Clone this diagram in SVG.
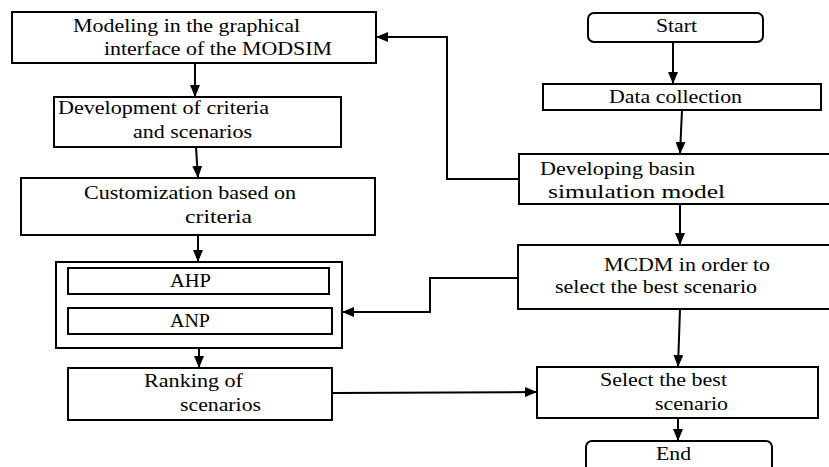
<svg xmlns="http://www.w3.org/2000/svg" width="829" height="467" viewBox="0 0 829 467">
<style>
  .box { fill: #fff; stroke: #000; stroke-width: 2; }
  .t { font-family: "Liberation Serif", "Times New Roman", serif; font-size: 19px; fill: #000; }
  .c { fill: none; stroke: #000; stroke-width: 2; }
</style>
<defs>
  <marker id="ah" markerWidth="12" markerHeight="10" refX="12" refY="5" orient="auto" markerUnits="userSpaceOnUse">
    <path d="M0,0 L12,5 L0,10 z" fill="#000"/>
  </marker>
</defs>
<rect width="829" height="467" fill="#fff"/>

<g id="modeling">
  <rect class="box" x="12" y="12" width="364" height="51"/>
  <text class="t" x="73" y="32" textLength="227" lengthAdjust="spacingAndGlyphs">Modeling in the graphical</text>
  <text class="t" x="104" y="55" textLength="228" lengthAdjust="spacingAndGlyphs">interface of the MODSIM</text>
</g>
<g id="development">
  <rect class="box" x="54" y="97" width="287" height="50"/>
  <text class="t" x="58" y="114" textLength="211" lengthAdjust="spacingAndGlyphs">Development of criteria</text>
  <text class="t" x="133" y="138" textLength="119" lengthAdjust="spacingAndGlyphs">and scenarios</text>
</g>
<g id="customization">
  <rect class="box" x="21" y="178" width="354" height="57"/>
  <text class="t" x="84" y="199" textLength="212" lengthAdjust="spacingAndGlyphs">Customization based on</text>
  <text class="t" x="185" y="223" textLength="67" lengthAdjust="spacingAndGlyphs">criteria</text>
</g>
<g id="methods">
  <rect class="box" x="56" y="262" width="286" height="86"/>
  <g id="ahp">
    <rect class="box" x="68" y="268" width="261" height="26"/>
    <text class="t" x="170" y="287" textLength="41" lengthAdjust="spacingAndGlyphs">AHP</text>
  </g>
  <g id="anp">
    <rect class="box" x="68" y="308" width="264" height="26"/>
    <text class="t" x="170" y="327" textLength="40" lengthAdjust="spacingAndGlyphs">ANP</text>
  </g>
</g>
<g id="ranking">
  <rect class="box" x="68" y="368" width="264" height="52"/>
  <text class="t" x="144" y="387" textLength="99" lengthAdjust="spacingAndGlyphs">Ranking of</text>
  <text class="t" x="180" y="411" textLength="81" lengthAdjust="spacingAndGlyphs">scenarios</text>
</g>
<g id="start">
  <rect class="box" x="588" y="13" width="175" height="29" rx="6"/>
  <text class="t" x="656" y="32" textLength="41" lengthAdjust="spacingAndGlyphs">Start</text>
</g>
<g id="data">
  <rect class="box" x="543" y="84" width="278" height="26"/>
  <text class="t" x="609" y="103" textLength="133" lengthAdjust="spacingAndGlyphs">Data collection</text>
</g>
<g id="developing">
  <rect class="box" x="519" y="154" width="320" height="50"/>
  <text class="t" x="540" y="175" textLength="155" lengthAdjust="spacingAndGlyphs">Developing basin</text>
  <text class="t" x="548" y="198" textLength="177" lengthAdjust="spacingAndGlyphs">simulation model</text>
</g>
<g id="mcdm">
  <rect class="box" x="518" y="245" width="320" height="64"/>
  <text class="t" x="604" y="271" textLength="166" lengthAdjust="spacingAndGlyphs">MCDM in order to</text>
  <text class="t" x="555" y="293" textLength="202" lengthAdjust="spacingAndGlyphs">select the best scenario</text>
</g>
<g id="select">
  <rect class="box" x="537" y="367" width="281" height="51"/>
  <text class="t" x="600" y="386" textLength="127" lengthAdjust="spacingAndGlyphs">Select the best</text>
  <text class="t" x="655" y="410" textLength="73" lengthAdjust="spacingAndGlyphs">scenario</text>
</g>
<g id="end">
  <rect class="box" x="586" y="441" width="186" height="40" rx="6"/>
  <text class="t" x="656" y="460" textLength="35" lengthAdjust="spacingAndGlyphs">End</text>
</g>

<g id="connectors">
  <path class="c" d="M195,63 V97" marker-end="url(#ah)"/>
  <path class="c" d="M196,147 L198,178" marker-end="url(#ah)"/>
  <path class="c" d="M198,235 V262" marker-end="url(#ah)"/>
  <path class="c" d="M199,348 V368" marker-end="url(#ah)"/>
  <path class="c" d="M332,393 L537,392" marker-end="url(#ah)"/>
  <path class="c" d="M673,42 V84" marker-end="url(#ah)"/>
  <path class="c" d="M682,110 L680,154" marker-end="url(#ah)"/>
  <path class="c" d="M680,204 V245" marker-end="url(#ah)"/>
  <path class="c" d="M680,309 L678,367" marker-end="url(#ah)"/>
  <path class="c" d="M678,418 V441" marker-end="url(#ah)"/>
  <path class="c" d="M519,179 H447 V37 H376" marker-end="url(#ah)"/>
  <path class="c" d="M518,278 H430 V312 H342" marker-end="url(#ah)"/>
</g>
</svg>
